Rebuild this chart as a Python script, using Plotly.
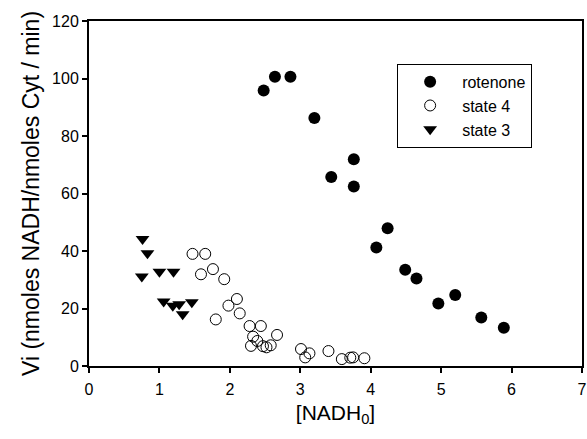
import plotly.graph_objects as go

# values
rot_x = [2.48, 2.64, 2.86, 3.20, 3.76, 3.44, 3.76, 4.24, 4.08, 4.49, 4.65, 4.96, 5.20, 5.57, 5.89]
rot_y = [95.8, 100.6, 100.6, 86.3, 71.9, 65.7, 62.4, 47.9, 41.2, 33.5, 30.4, 21.7, 24.7, 16.9, 13.3]

s4_x = [1.47, 1.65, 1.59, 1.76, 1.92, 2.10, 1.98, 2.14, 1.80, 2.28, 2.44, 2.33, 2.67, 2.39,
        2.30, 2.47, 2.52, 2.58, 3.01, 3.13, 3.07, 3.40, 3.59, 3.71, 3.75, 3.91]
s4_y = [39.0, 39.0, 31.9, 33.7, 30.2, 23.3, 21.0, 18.3, 16.2, 13.9, 13.9, 10.2, 10.8, 8.7,
        7.0, 6.9, 6.5, 7.2, 5.9, 4.4, 3.0, 5.2, 2.4, 2.9, 3.0, 2.7]

s3_x = [0.76, 0.83, 0.75, 1.00, 1.20, 1.06, 1.19, 1.28, 1.33, 1.46]
s3_y = [44.2, 39.2, 31.1, 32.8, 32.8, 22.4, 21.0, 21.5, 18.0, 22.2]

FONT = "Liberation Sans, Arial, sans-serif"

fig = go.Figure()
fig.add_trace(go.Scatter(x=rot_x, y=rot_y, mode="markers", name="rotenone",
                         marker=dict(symbol="circle", size=12, color="black")))
fig.add_trace(go.Scatter(x=s4_x, y=s4_y, mode="markers", name="state 4",
                         marker=dict(symbol="circle-open", size=11, color="black",
                                     line=dict(width=1, color="black"))))
fig.add_trace(go.Scatter(x=s3_x, y=s3_y, mode="markers", name="state 3",
                         marker=dict(symbol="triangle-down", size=12, color="black")))

axis_style = dict(showline=True, linecolor="black", linewidth=2, mirror=True,
                  ticks="outside", ticklen=5, tickwidth=2, tickcolor="black",
                  showgrid=False, zeroline=False, automargin=False,
                  ticklabeloverflow="allow",
                  tickfont=dict(family=FONT, size=16, color="black"))

fig.update_layout(
    width=587, height=439,
    plot_bgcolor="white", paper_bgcolor="white",
    margin=dict(l=89, r=5, t=21, b=73, autoexpand=False),
    font=dict(family=FONT, size=16, color="black"),
    xaxis=dict(range=[0, 7], dtick=1, ticklabelstandoff=3,
               title=dict(text="[NADH<sub>0</sub>]", font=dict(size=21), standoff=8),
               **axis_style),
    yaxis=dict(range=[0, 120], dtick=20,
               title=dict(text="Vi (nmoles NADH/nmoles Cyt / min)", font=dict(size=23), standoff=6),
               **axis_style),
    legend=dict(x=0.625, y=0.876, xanchor="left", yanchor="top",
                bordercolor="black", borderwidth=1, bgcolor="white",
                itemwidth=54,
                font=dict(family=FONT, size=16)),
    showlegend=True,
)

# drop the default page margin so the figure sits at the window's corner
fig.write_html("out.html", config={"displayModeBar": False},
               post_script="document.body.style.margin='0';document.body.style.overflow='hidden';")
